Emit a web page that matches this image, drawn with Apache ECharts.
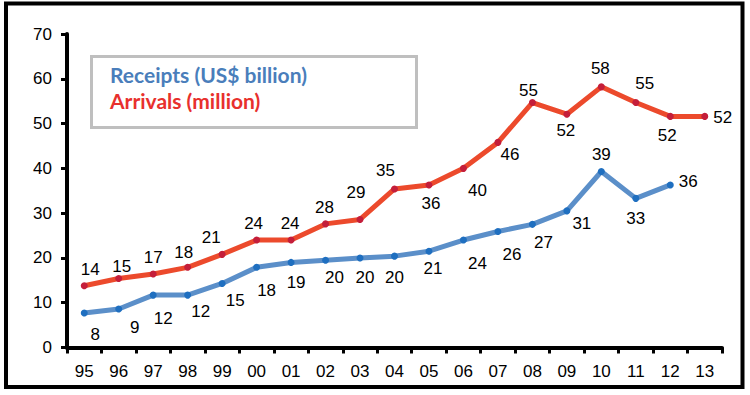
<!DOCTYPE html>
<html>
<head>
<meta charset="utf-8">
<script src="https://cdn.jsdelivr.net/npm/echarts@6/dist/echarts.min.js"></script>
<style>
html,body{margin:0;padding:0;background:#fff;}
#chart{width:750px;height:395px;}
</style>
</head>
<body>
<div id="chart"></div>
<script>
// ---- data ----
var years = ['95','96','97','98','99','00','01','02','03','04','05','06','07','08','09','10','11','12','13'];
var yTicks = [0, 10, 20, 30, 40, 50, 60, 70];
var arrivals = [13.8, 15.4, 16.4, 17.9, 20.8, 24.0, 24.0, 27.6, 28.6, 35.4, 36.3, 40.0, 45.8, 54.7, 52.1, 58.2, 54.7, 51.6, 51.6];
var arrivalsLabels = ['14','15','17','18','21','24','24','28','29','35','36','40','46','55','52','58','55','52','52'];
var receipts = [7.7, 8.6, 11.7, 11.7, 14.3, 17.9, 19.0, 19.5, 20.0, 20.4, 21.5, 24.0, 25.9, 27.5, 30.5, 39.3, 33.3, 36.3, null];
var receiptsLabels = ['8','9','12','12','15','18','19','20','20','20','21','24','26','27','31','39','33','36',''];
var seriesNames = ['Receipts (US$ billion)', 'Arrivals (million)'];

// ---- label placement (style, offsets from point centre) ----
var arrivalsLabelOffset = [[6,-16],[3,-12],[0,-17],[-4,-15],[-11,-17],[-3,-17],[-1,-17],[-1,-16],[-4,-27],[-9,-18],[2,19],[14,22],[12,12],[-4,-12],[-1,16],[-1,-18],[9,-19],[-3,19],[18,1]];
var receiptsLabelOffset = [[11,21],[16,19],[10,23],[13,16],[13,17],[10,23],[5,20],[9,17],[5,20],[0,21],[4,17],[14,23],[14,23],[11,18],[15,13],[0,-17],[0,20],[18,-3],[0,0]];

var FONT = "'Liberation Sans', Arial, sans-serif";

function buildData(values, labels, offsets) {
  return values.map(function (v, i) {
    return {
      value: v,
      label: { formatter: labels[i], offset: offsets[i] }
    };
  });
}

var chart = echarts.init(document.getElementById('chart'), null, { renderer: 'svg' });
var option = {
  animation: false,
  backgroundColor: '#fff',
  grid: { left: 67, right: 28, top: 34, bottom: 47.5 },
  legend: {
    orient: 'vertical',
    left: 105,
    top: 64,
    padding: 0,
    icon: 'none',
    itemWidth: 0,
    itemHeight: 21,
    itemGap: 5,
    selectedMode: false,
    textStyle: { fontFamily: "Lato, 'Open Sans', sans-serif", fontWeight: 'bold', fontSize: 21, lineHeight: 21 },
    data: [
      { name: seriesNames[0], textStyle: { color: '#4A7EBB' } },
      { name: seriesNames[1], textStyle: { color: '#E8302D' } }
    ]
  },
  graphic: [
    { type: 'rect', left: 89, top: 54, shape: { width: 325, height: 71 }, style: { fill: 'none', stroke: '#BFBFBF', lineWidth: 3 }, z: 10 },
    { type: 'rect', shape: { x: 6, y: 3.5, width: 736.5, height: 383.5 }, style: { fill: 'none', stroke: '#000', lineWidth: 4 }, z: 10 }
  ],
  xAxis: {
    type: 'category',
    data: years,
    boundaryGap: true,
    axisLine: { lineStyle: { color: '#000', width: 4 } },
    axisTick: { show: true, length: 6, inside: false, lineStyle: { color: '#000', width: 3 } },
    axisLabel: { color: '#000', fontFamily: FONT, fontSize: 17, margin: 15 },
    splitLine: { show: false }
  },
  yAxis: {
    type: 'value',
    min: yTicks[0],
    max: yTicks[yTicks.length - 1],
    interval: yTicks[1] - yTicks[0],
    axisLine: { show: true, lineStyle: { color: '#000', width: 4 } },
    axisTick: { show: true, length: 6, lineStyle: { color: '#000', width: 3 } },
    axisLabel: { color: '#000', fontFamily: FONT, fontSize: 17, margin: 15 },
    splitLine: { show: false }
  },
  series: [
    {
      name: seriesNames[0],
      type: 'line',
      data: buildData(receipts, receiptsLabels, receiptsLabelOffset),
      symbol: 'circle',
      symbolSize: 7,
      lineStyle: { color: '#5B8FC9', width: 5 },
      itemStyle: { color: '#1F6FC0' },
      label: { show: true, position: 'inside', color: '#000', fontFamily: FONT, fontSize: 17 },
      z: 3
    },
    {
      name: seriesNames[1],
      type: 'line',
      data: buildData(arrivals, arrivalsLabels, arrivalsLabelOffset),
      symbol: 'circle',
      symbolSize: 7,
      lineStyle: { color: '#EC4A2C', width: 5 },
      itemStyle: { color: '#C41E3A' },
      label: { show: true, position: 'inside', color: '#000', fontFamily: FONT, fontSize: 17 },
      z: 3
    }
  ]
};
chart.setOption(option);
</script>
</body>
</html>
